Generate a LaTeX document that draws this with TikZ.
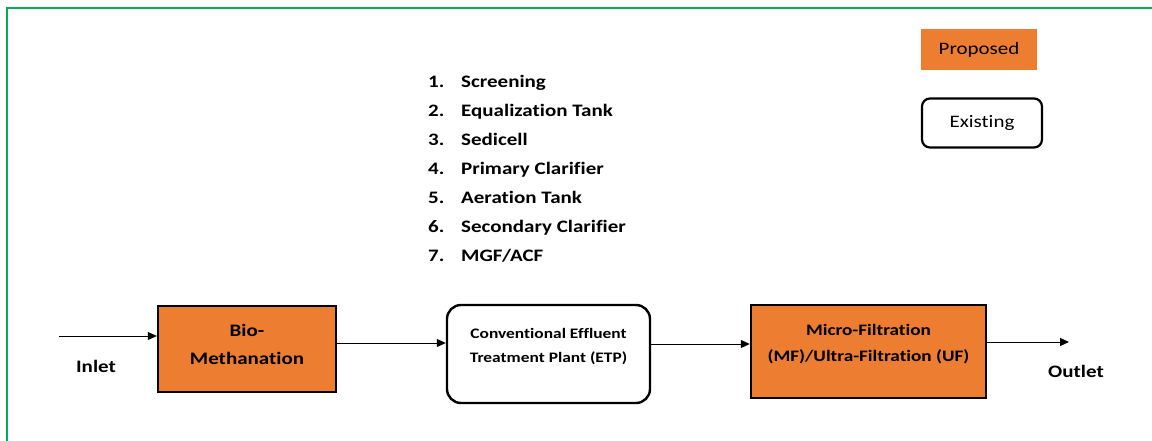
\documentclass[tikz,border=0pt]{standalone}
\usepackage{fontspec}
\setmainfont{Carlito}[FakeStretch=1.2, Ligatures={TeX,NoCommon}]
\usetikzlibrary{arrows.meta}
\definecolor{procorange}{HTML}{ED7D31}
\definecolor{framegreen}{HTML}{00B050}
\tikzset{
  proposedbox/.style={draw=black, line width=2.4pt, fill=procorange, inner sep=0pt},
  existingbox/.style={draw=black, line width=2.4pt, fill=white, rounded corners=14pt, inner sep=0pt},
  flow/.style={line width=1pt, -{Triangle[length=9pt,width=8pt]}},
  boxtext/.style={font=\bfseries, align=center, inner sep=0pt},
  listnum/.style={anchor=base west, font=\fontsize{17.5}{20}\selectfont\bfseries, inner sep=0pt},
}
\begin{document}
\begin{tikzpicture}[x=1pt,y=-1pt]
\useasboundingbox (0,0) rectangle (1152,441);
% outer frame (top and left edges)
\draw[framegreen, line width=2pt] (7,441) -- (7,8.5) -- (1152,8.5);

% legend
\node[fill=procorange, minimum width=116pt, minimum height=41pt, inner sep=0pt,
      font=\fontsize{17.5}{20}\selectfont] (legprop) at (979,49.5) {Proposed};
\node[draw=black, line width=2.2pt, rounded corners=8pt, minimum width=120pt, minimum height=49pt,
      inner sep=0pt, font=\fontsize{17.5}{20}\selectfont] (legexist) at (982,123) {Existing};

% list of ETP units
\foreach \i/\t in {1/Screening,2/Equalization Tank,3/Sedicell,4/Primary Clarifier,5/Aeration Tank,6/Secondary Clarifier,7/{MGF/ACF}}{
  \node[listnum] (num\i) at (428,{87.3+29*(\i-1)}) {\i.};
  \node[listnum] (item\i) at (461,{87.3+29*(\i-1)}) {\t};
}

% process boxes
\node[proposedbox, minimum width=178pt, minimum height=86pt] (bio) at (247,349) {};
\node[boxtext, font=\fontsize{17.5}{28}\selectfont\bfseries] (biotxt) at (247,344) {Bio-\\Methanation};

\node[existingbox, minimum width=203pt, minimum height=98pt, yshift=0pt] (etp) at (548.5,354) {};
\node[boxtext, font=\fontsize{14.5}{24}\selectfont\bfseries] (etptxt) at (548.5,347) {Conventional Effluent\\Treatment Plant (ETP)};

\node[proposedbox, minimum width=235pt, minimum height=93pt] (mf) at (868.5,351.5) {};
\node[boxtext, font=\fontsize{16}{26}\selectfont\bfseries] (mftxt) at (868.5,344) {Micro-Filtration\\(MF)/Ultra-Filtration (UF)};

% flow connectors
\coordinate (in) at (59,336);
\coordinate (out) at (1069,342);
\draw[flow] (in) -- (bio.west |- in);
\draw[flow] (bio.east |- 0,343) -- (etp.west |- 0,343);
\draw[flow] (etp.east |- 0,344) -- (mf.west |- 0,344);
\draw[flow] (mf.east |- out) -- (out);

\node[font=\fontsize{17.5}{20}\selectfont\bfseries] (inlet) at (96,366) {Inlet};
\node[font=\fontsize{17.5}{20}\selectfont\bfseries] (outlet) at (1076,371) {Outlet};
\end{tikzpicture}
\end{document}
